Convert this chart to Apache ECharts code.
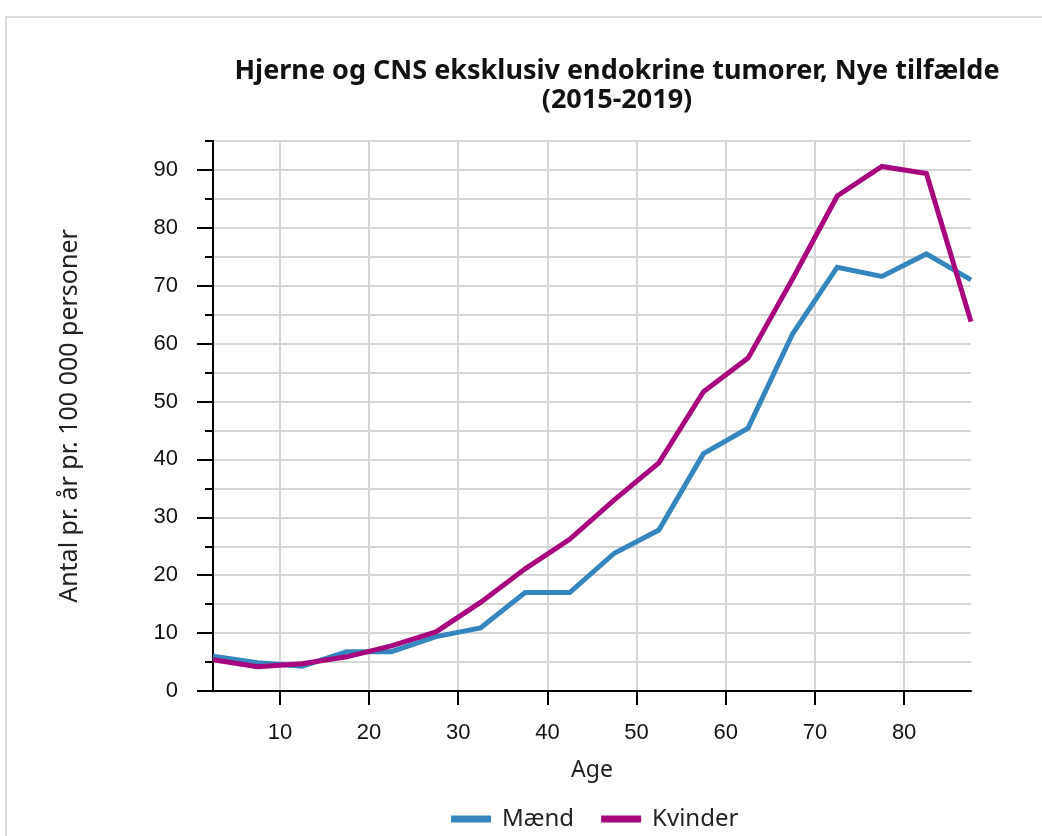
<!DOCTYPE html>
<html>
<head>
<meta charset="utf-8">
<script src="https://cdn.jsdelivr.net/npm/echarts@6/dist/echarts.min.js"></script>
<style>
  html, body { margin: 0; padding: 0; background: #fff; }
  #frame { position: absolute; left: 5px; top: 16px; width: 1100px; height: 900px; border: 2px solid #dcdcdc; }
  #chart { position: absolute; left: 0; top: 0; width: 1042px; height: 836px; }
</style>
</head>
<body>
<div id="frame"></div>
<div id="chart"></div>
<script>
// Age-specific incidence, midpoints of 5-year age groups
const ages = [2.5, 7.5, 12.5, 17.5, 22.5, 27.5, 32.5, 37.5, 42.5, 47.5, 52.5, 57.5, 62.5, 67.5, 72.5, 77.5, 82.5, 87.5];
const maend = [6.0, 4.9, 4.3, 6.8, 6.8, 9.4, 10.9, 17.0, 17.0, 23.8, 27.8, 41.0, 45.4, 61.7, 73.2, 71.6, 75.5, 71.0];
const kvinder = [5.4, 4.2, 4.7, 5.9, 7.8, 10.2, 15.3, 21.1, 26.2, 33.0, 39.4, 51.7, 57.5, 71.2, 85.5, 90.6, 89.4, 63.8];
const xTicks = [10, 20, 30, 40, 50, 60, 70, 80];
const yMajor = [0, 10, 20, 30, 40, 50, 60, 70, 80, 90];

const TITLE = 'Hjerne og CNS eksklusiv endokrine tumorer, Nye tilfælde\n(2015-2019)';
const SANS = "'Noto Sans', sans-serif";
const TICKFONT = "'Liberation Sans', Arial, sans-serif";
const BLUE = '#3586be';
const PURPLE = '#a8047e';
const GRIDC = '#d5d5d5';

const pairs = (ys) => ages.map((a, i) => [a, ys[i]]);

const chart = echarts.init(document.getElementById('chart'));
chart.setOption({
  animation: false,
  title: {
    text: TITLE, left: 612, top: 52, textAlign: 'center',
    textStyle: { fontFamily: SANS, fontSize: 27, fontWeight: 'bold', color: '#111', lineHeight: 29 },
  },
  grid: { left: 213, right: 71, top: 141, bottom: 145, containLabel: false },
  legend: {
    left: 446, top: 802, itemWidth: 40, itemHeight: 7, itemGap: 27, icon: 'rect',
    textStyle: { fontFamily: SANS, fontSize: 24, color: '#222', padding: [0, 0, 0, 6] },
    data: ['Mænd', 'Kvinder'],
  },
  xAxis: {
    type: 'value', min: 2.5, max: 87.5,
    name: 'Age', nameLocation: 'middle', nameGap: 68,
    nameTextStyle: { fontFamily: SANS, fontSize: 23, color: '#222' },
    axisLine: { onZero: false, lineStyle: { color: '#000', width: 2 } },
    axisTick: { show: true, length: 14, customValues: xTicks, lineStyle: { color: '#000', width: 2 } },
    axisLabel: { customValues: xTicks, margin: 31, fontFamily: TICKFONT, fontSize: 22, color: '#111' },
    splitLine: { show: true, lineStyle: { color: GRIDC, width: 2 } },
  },
  yAxis: [{
    type: 'value', min: 0, max: 95, interval: 5,
    name: 'Antal pr. år pr. 100 000 personer', nameLocation: 'middle', nameGap: 131,
    nameTextStyle: { fontFamily: SANS, fontSize: 25, color: '#222' },
    axisLine: { show: true, lineStyle: { color: '#000', width: 2 } },
    axisTick: { show: true, length: 8, lineStyle: { color: '#000', width: 2 } },
    axisLabel: {
      margin: 35, fontFamily: TICKFONT, fontSize: 22, color: '#111',
      formatter: (v) => (v % 10 === 0 && v < 95 ? String(v) : ''),
    },
    splitLine: { show: true, lineStyle: { color: GRIDC, width: 2 } },
  }, {
    // overlay axis carrying the longer major ticks
    type: 'value', min: 0, max: 95, position: 'left', offset: 0,
    axisLine: { show: true, lineStyle: { color: '#000', width: 2 } },
    axisTick: { show: true, length: 16, customValues: yMajor, lineStyle: { color: '#000', width: 2 } },
    axisLabel: { show: false },
    splitLine: { show: false },
  }],
  series: [{
    name: 'Mænd', type: 'line', data: pairs(maend), showSymbol: false, symbol: 'none',
    lineStyle: { color: BLUE, width: 5, join: 'miter' }, itemStyle: { color: BLUE }, z: 3,
  }, {
    name: 'Kvinder', type: 'line', data: pairs(kvinder), showSymbol: false, symbol: 'none',
    lineStyle: { color: PURPLE, width: 5, join: 'miter' }, itemStyle: { color: PURPLE }, z: 4,
  }],
});
</script>
</body>
</html>
